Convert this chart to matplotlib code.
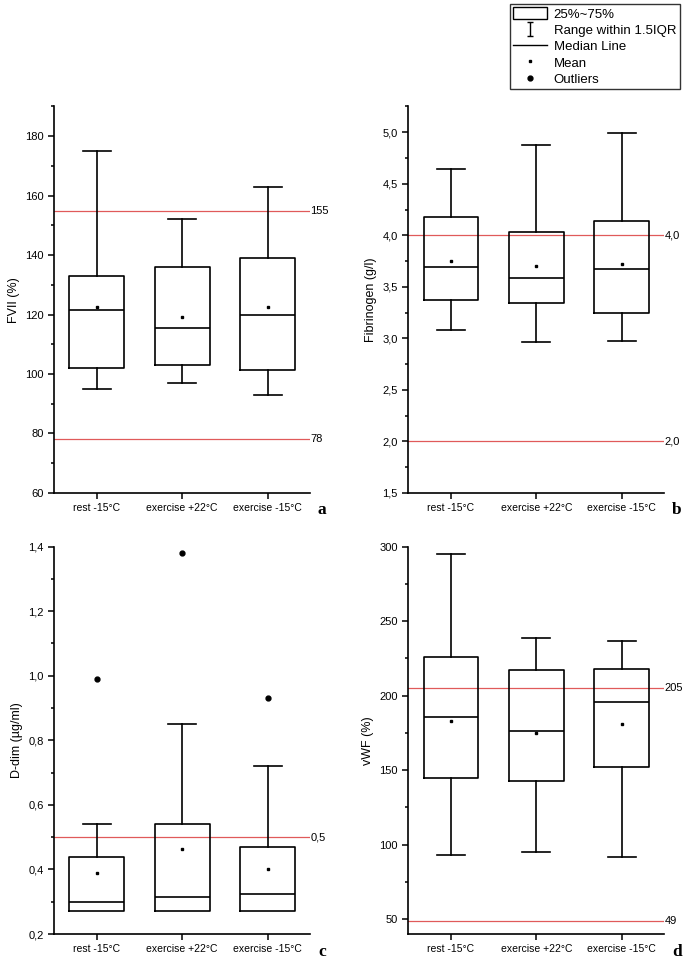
import matplotlib
matplotlib.use("Agg")
import matplotlib.pyplot as plt
from matplotlib.lines import Line2D
from matplotlib.patches import Patch
from matplotlib.path import Path
from matplotlib.ticker import MultipleLocator, FuncFormatter
import matplotlib.transforms as mtransforms

plt.rcParams['font.family'] = ['Liberation Sans', 'DejaVu Sans']

groups = ['rest -15°C', 'exercise +22°C', 'exercise -15°C']

# FVII (%)
fvii_low = [95, 97, 93]
fvii_q1 = [102, 103, 101.5]
fvii_med = [121.5, 115.5, 120]
fvii_q3 = [133, 136, 139]
fvii_high = [175, 152, 163]
fvii_mean = [122.7, 119.1, 122.7]
fvii_out = [[], [], []]
fvii_ref = [155, 78]

# Fibrinogen (g/l)
fib_low = [3.08, 2.96, 2.97]
fib_q1 = [3.37, 3.34, 3.25]
fib_med = [3.69, 3.59, 3.67]
fib_q3 = [4.18, 4.03, 4.14]
fib_high = [4.64, 4.88, 4.99]
fib_mean = [3.75, 3.70, 3.72]
fib_out = [[], [], []]
fib_ref = [4.0, 2.0]

# D-dim (ug/ml)
ddim_low = [0.27, 0.27, 0.27]
ddim_q1 = [0.27, 0.27, 0.27]
ddim_med = [0.30, 0.315, 0.325]
ddim_q3 = [0.44, 0.54, 0.47]
ddim_high = [0.54, 0.85, 0.72]
ddim_mean = [0.39, 0.465, 0.403]
ddim_out = [[0.99], [1.38], [0.93]]
ddim_ref = [0.5]

# vWF (%)
vwf_low = [93, 95, 92]
vwf_q1 = [145, 143, 152]
vwf_med = [186, 176, 196]
vwf_q3 = [226, 217, 218]
vwf_high = [295, 239, 237]
vwf_mean = [183, 175, 181]
vwf_out = [[], [], []]
vwf_ref = [205, 49]


def comma(v, pos):
    return f"{v:.1f}".replace('.', ',')


def draw_panel(ax, low, q1, med, q3, high, mean, out, refs, ylabel, ylim,
               major, minor, letter, fmt=None):
    stats = []
    for i in range(len(groups)):
        stats.append(dict(whislo=low[i], q1=q1[i], med=med[i], q3=q3[i],
                          whishi=high[i], mean=mean[i], fliers=out[i]))
    lw = 1.2
    res = ax.bxp(stats, positions=[1, 2, 3], widths=0.64, showmeans=True,
                 boxprops=dict(color='black', linewidth=lw),
                 medianprops=dict(color='black', linewidth=lw),
                 whiskerprops=dict(color='black', linewidth=lw),
                 capprops=dict(color='black', linewidth=lw),
                 capwidths=0.33,
                 meanprops=dict(marker='s', markerfacecolor='black',
                                markeredgecolor='black', markersize=1.6),
                 flierprops=dict(marker='o', markerfacecolor='black',
                                 markeredgecolor='black', markersize=3.5))
    # no lower cap when the whisker has zero length
    for i in range(len(groups)):
        if low[i] == q1[i]:
            res['caps'][2 * i].set_visible(False)
    ax.set_xlim(0.5, 3.5)
    ax.set_ylim(*ylim)
    ax.set_xticks([1, 2, 3])
    ax.set_xticklabels(groups, fontsize=7.5)
    ax.yaxis.set_major_locator(MultipleLocator(major))
    ax.yaxis.set_minor_locator(MultipleLocator(minor))
    if fmt is not None:
        ax.yaxis.set_major_formatter(FuncFormatter(fmt))
    ax.tick_params(axis='y', which='major', direction='out', length=4,
                   width=1.1, labelsize=8)
    ax.tick_params(axis='y', which='minor', direction='out', length=2.5,
                   width=1.1)
    ax.tick_params(axis='x', direction='out', length=4, width=1.1, pad=3)
    for s in ['top', 'right']:
        ax.spines[s].set_visible(False)
    for s in ['left', 'bottom']:
        ax.spines[s].set_linewidth(1.2)
    ax.set_ylabel(ylabel, fontsize=9)

    trans = mtransforms.blended_transform_factory(ax.transAxes, ax.transData)
    for r in refs:
        ax.axhline(r, color='#e05a5a', linewidth=0.9, zorder=0.5)
        lab = fmt(r, None) if fmt is not None else f"{r:g}"
        ax.text(1.0, r, lab, transform=trans, ha='left', va='center',
                fontsize=8)
    ax.text(1.03, -0.045, letter, transform=ax.transAxes, ha='left',
            va='center', fontsize=12.5, fontweight='bold',
            family='Liberation Serif')


fig = plt.figure(figsize=(6.85, 9.59), dpi=100)

ax_a = fig.add_axes([0.079, 0.486, 0.374, 0.403])
ax_b = fig.add_axes([0.596, 0.486, 0.374, 0.403])
ax_c = fig.add_axes([0.079, 0.026, 0.374, 0.404])
ax_d = fig.add_axes([0.596, 0.026, 0.374, 0.404])

draw_panel(ax_a, fvii_low, fvii_q1, fvii_med, fvii_q3, fvii_high, fvii_mean,
           fvii_out, fvii_ref, 'FVII (%)', (60, 190), 20, 10, 'a')
draw_panel(ax_b, fib_low, fib_q1, fib_med, fib_q3, fib_high, fib_mean,
           fib_out, fib_ref, 'Fibrinogen (g/l)', (1.5, 5.25), 0.5, 0.25, 'b',
           fmt=comma)
draw_panel(ax_c, ddim_low, ddim_q1, ddim_med, ddim_q3, ddim_high, ddim_mean,
           ddim_out, ddim_ref, 'D-dim (µg/ml)', (0.2, 1.4), 0.2, 0.1, 'c',
           fmt=comma)
draw_panel(ax_d, vwf_low, vwf_q1, vwf_med, vwf_q3, vwf_high, vwf_mean,
           vwf_out, vwf_ref, 'vWF (%)', (40, 300), 50, 25, 'd')

# legend
range_marker = Path([(-0.5, 1), (0.5, 1), (0, 1), (0, -1), (-0.5, -1), (0.5, -1)],
                    [Path.MOVETO, Path.LINETO, Path.MOVETO, Path.LINETO,
                     Path.MOVETO, Path.LINETO])
handles = [
    Patch(facecolor='white', edgecolor='black', linewidth=1),
    Line2D([], [], linestyle='none', marker=range_marker, markersize=10,
           color='black', markeredgewidth=1),
    Line2D([], [], color='black', linewidth=1),
    Line2D([], [], linestyle='none', marker='s', markersize=1.8, color='black'),
    Line2D([], [], linestyle='none', marker='o', markersize=3.5, color='black'),
]
labels = ['25%~75%', 'Range within 1.5IQR', 'Median Line', 'Mean', 'Outliers']
leg = fig.legend(handles, labels, loc='upper right',
                 bbox_to_anchor=(0.992, 0.996), fontsize=9.5, frameon=True,
                 fancybox=False, edgecolor='black', handlelength=2.6,
                 handleheight=1.0, handletextpad=0.5, borderpad=0.25,
                 labelspacing=0.22, borderaxespad=0)
leg.get_frame().set_linewidth(1)

fig.savefig('out.png', dpi=100)
